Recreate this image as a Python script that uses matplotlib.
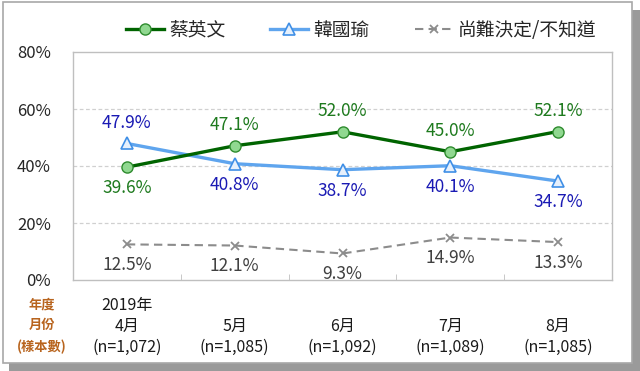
import matplotlib
matplotlib.use("Agg")
import matplotlib.pyplot as plt
from matplotlib.patches import Rectangle

plt.rcParams['font.family'] = ['Noto Sans CJK TC', 'DejaVu Sans']

months = ["4月", "5月", "6月", "7月", "8月"]
samples = ["(n=1,072)", "(n=1,085)", "(n=1,092)", "(n=1,089)", "(n=1,085)"]
year_label = "2019年"
tsai = [39.6, 47.1, 52.0, 45.0, 52.1]
han = [47.9, 40.8, 38.7, 40.1, 34.7]
undecided = [12.5, 12.1, 9.3, 14.9, 13.3]
series_names = ["蔡英文", "韓國瑜", "尚難決定/不知道"]
y_ticks = [0, 20, 40, 60, 80]
row_labels = ["年度", "月份", "(樣本數)"]

W, H = 640, 371
fig = plt.figure(figsize=(6.4, 3.71), dpi=100)

# frame with shadow
fig.patches.append(Rectangle((9 / W, 0), (W - 9) / W, (H - 10) / H, transform=fig.transFigure,
                             facecolor="#9a9a9a", edgecolor="none", zorder=0))
fig.patches.append(Rectangle((3 / W, 8 / H), (629) / W, (H - 10) / H, transform=fig.transFigure,
                             facecolor="white", edgecolor="#a8a8a8", linewidth=1.2, zorder=1))

ax = fig.add_axes([73 / W, 1 - 280 / H, (612 - 73) / W, (280 - 52) / H])
ax.set_zorder(2)
x = list(range(len(months)))

ax.plot(x, tsai, color="#006400", linewidth=2.4, marker="o", markersize=8,
        markerfacecolor="#90d890", markeredgecolor="#2e8b2e", markeredgewidth=1.0,
        label=series_names[0], zorder=5)
ax.plot(x, han, color="#5fa5ee", linewidth=2.4, marker="^", markersize=8,
        markerfacecolor="#e6f0fc", markeredgecolor="#3f8fe6", markeredgewidth=1.2,
        label=series_names[1], zorder=4)
ax.plot(x, undecided, color="#8c8c8c", linewidth=1.5, linestyle=(0, (4, 2.5)), marker="x",
        markersize=6, markeredgecolor="#8c8c8c", markeredgewidth=1.3,
        label=series_names[2], zorder=3)

tsai_pos = [-1, 1, 1, 1, 1]
han_pos = [1, -1, -1, -1, -1]
fs = 12.5
for i in x:
    ax.annotate(f"{tsai[i]:.1f}%", (i, tsai[i]), xytext=(0, 15 * tsai_pos[i]),
                textcoords="offset points", ha="center", va="center",
                color="#1e7a1e", fontsize=fs)
    ax.annotate(f"{han[i]:.1f}%", (i, han[i]), xytext=(0, 15 * han_pos[i]),
                textcoords="offset points", ha="center", va="center",
                color="#1a1ab4", fontsize=fs)
    ax.annotate(f"{undecided[i]:.1f}%", (i, undecided[i]), xytext=(0, -15),
                textcoords="offset points", ha="center", va="center",
                color="#404040", fontsize=fs)

ax.set_xlim(-0.5, len(months) - 0.5)
ax.set_ylim(0, 80)
ax.set_yticks(y_ticks)
ax.set_yticklabels([f"{v}%" for v in y_ticks], fontsize=12, color="#262626")
ax.tick_params(axis="y", length=0, pad=16)

labels = []
for i in x:
    top = year_label if i == 0 else ""
    labels.append(f"{top}\n{months[i]}\n{samples[i]}")
ax.set_xticks(x)
ax.set_xticklabels(labels, fontsize=11.5, color="#1a1a1a", linespacing=1.3)
ax.tick_params(axis="x", length=0, pad=12)
ax.set_xticks([i + 0.5 for i in x[:-1]], minor=True)
ax.tick_params(axis="x", which="minor", direction="in", length=4, color="#bfbfbf")

for lab, yp in zip(row_labels, [304, 325, 347]):
    fig.text(42 / W, 1 - yp / H, lab, ha="center", va="center",
             fontsize=9.5, color="#b8641e", fontweight="bold", zorder=3)

for v in y_ticks[1:-1]:
    ax.axhline(v, color="#d0d0d0", linewidth=0.9, linestyle=(0, (3, 2)), zorder=1)
for s in ax.spines.values():
    s.set_color("#bfbfbf")
    s.set_linewidth(1.0)

leg = ax.legend(loc="center", bbox_to_anchor=(0.535, 1.095), ncol=3, frameon=False,
                fontsize=13.5, handlelength=2.0, columnspacing=2.4, handletextpad=0.3)
for t in leg.get_texts():
    t.set_color("#262626")

fig.savefig("out.png", dpi=100)
